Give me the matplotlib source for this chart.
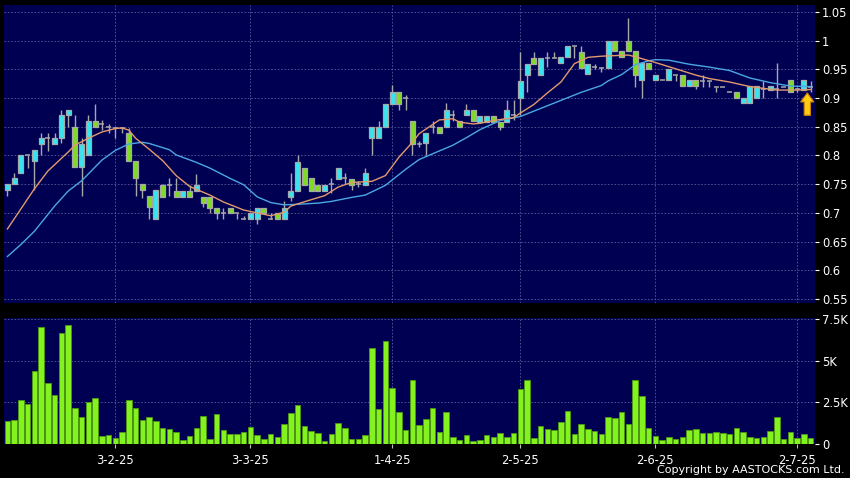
import numpy as np
import matplotlib
matplotlib.use("Agg")
import matplotlib.pyplot as plt

# ---------------- data ----------------
opens = [0.740, 0.750, 0.770, 0.800, 0.790, 0.820, 0.830, 0.820, 0.830, 0.870,
         0.850, 0.780, 0.800, 0.860, 0.855, 0.850, 0.848, 0.848, 0.840, 0.790,
         0.750, 0.729, 0.690, 0.749, 0.749, 0.739, 0.728, 0.739, 0.739, 0.728,
         0.728, 0.709, 0.700, 0.709, 0.700, 0.690, 0.690, 0.690, 0.709, 0.690,
         0.700, 0.690, 0.728, 0.739, 0.779, 0.760, 0.749, 0.739, 0.750, 0.759,
         0.760, 0.759, 0.750, 0.749, 0.830, 0.830, 0.849, 0.889, 0.911, 0.900,
         0.860, 0.820, 0.821, 0.850, 0.849, 0.849, 0.870, 0.860, 0.870, 0.880,
         0.859, 0.859, 0.869, 0.859, 0.859, 0.870, 0.900, 0.940, 0.970, 0.940,
         0.970, 0.970, 0.961, 0.971, 0.990, 0.980, 0.942, 0.955, 0.952, 0.953,
         1.000, 0.982, 1.000, 0.982, 0.931, 0.961, 0.931, 0.931, 0.931, 0.940,
         0.940, 0.921, 0.931, 0.930, 0.930, 0.920, 0.920, 0.910, 0.911, 0.892,
         0.892, 0.900, 0.915, 0.914, 0.915, 0.920, 0.931, 0.915, 0.914, 0.920]
closes = [0.750, 0.760, 0.800, 0.800, 0.810, 0.830, 0.830, 0.830, 0.870, 0.880,
          0.780, 0.820, 0.860, 0.850, 0.855, 0.850, 0.848, 0.848, 0.790, 0.760,
          0.740, 0.710, 0.740, 0.728, 0.749, 0.728, 0.739, 0.728, 0.749, 0.718,
          0.709, 0.699, 0.700, 0.699, 0.700, 0.690, 0.700, 0.709, 0.699, 0.690,
          0.690, 0.709, 0.739, 0.789, 0.749, 0.739, 0.739, 0.749, 0.750, 0.779,
          0.760, 0.749, 0.750, 0.769, 0.849, 0.849, 0.889, 0.911, 0.889, 0.900,
          0.820, 0.820, 0.840, 0.850, 0.840, 0.879, 0.870, 0.850, 0.880, 0.860,
          0.869, 0.869, 0.859, 0.849, 0.879, 0.870, 0.930, 0.959, 0.959, 0.970,
          0.970, 0.970, 0.971, 0.991, 0.990, 0.953, 0.960, 0.955, 0.952, 1.000,
          0.982, 0.971, 0.982, 0.941, 0.961, 0.951, 0.940, 0.931, 0.951, 0.940,
          0.921, 0.931, 0.921, 0.930, 0.930, 0.920, 0.920, 0.910, 0.901, 0.900,
          0.921, 0.921, 0.915, 0.921, 0.915, 0.920, 0.911, 0.915, 0.931, 0.920]
highs = [0.750, 0.769, 0.800, 0.800, 0.810, 0.839, 0.839, 0.840, 0.880, 0.880,
         0.870, 0.830, 0.870, 0.890, 0.862, 0.855, 0.850, 0.850, 0.848, 0.790,
         0.750, 0.729, 0.740, 0.750, 0.760, 0.760, 0.739, 0.749, 0.768, 0.728,
         0.728, 0.709, 0.709, 0.709, 0.700, 0.695, 0.700, 0.709, 0.709, 0.700,
         0.700, 0.720, 0.769, 0.800, 0.779, 0.760, 0.749, 0.749, 0.760, 0.779,
         0.770, 0.759, 0.755, 0.779, 0.849, 0.860, 0.889, 0.922, 0.911, 0.905,
         0.860, 0.825, 0.840, 0.860, 0.849, 0.891, 0.880, 0.860, 0.890, 0.880,
         0.869, 0.869, 0.869, 0.859, 0.897, 0.897, 0.980, 0.959, 0.980, 0.970,
         0.980, 0.980, 0.971, 0.991, 0.990, 0.990, 0.960, 0.960, 0.955, 1.000,
         1.000, 0.982, 1.040, 0.982, 0.961, 0.961, 0.940, 0.931, 0.951, 0.940,
         0.940, 0.931, 0.931, 0.940, 0.930, 0.920, 0.920, 0.910, 0.911, 0.900,
         0.921, 0.921, 0.930, 0.921, 0.961, 0.920, 0.931, 0.920, 0.931, 0.930]
lows = [0.730, 0.750, 0.770, 0.778, 0.740, 0.800, 0.808, 0.820, 0.822, 0.850,
        0.780, 0.730, 0.800, 0.850, 0.845, 0.840, 0.830, 0.840, 0.790, 0.729,
        0.726, 0.690, 0.690, 0.728, 0.730, 0.728, 0.728, 0.728, 0.739, 0.710,
        0.700, 0.690, 0.690, 0.699, 0.690, 0.690, 0.690, 0.680, 0.699, 0.690,
        0.690, 0.690, 0.720, 0.739, 0.749, 0.739, 0.739, 0.739, 0.735, 0.759,
        0.750, 0.740, 0.745, 0.749, 0.800, 0.830, 0.849, 0.889, 0.880, 0.880,
        0.800, 0.815, 0.800, 0.840, 0.840, 0.849, 0.860, 0.850, 0.870, 0.860,
        0.859, 0.859, 0.859, 0.845, 0.859, 0.862, 0.870, 0.911, 0.959, 0.940,
        0.955, 0.970, 0.961, 0.971, 0.970, 0.953, 0.942, 0.950, 0.945, 0.953,
        0.982, 0.971, 0.982, 0.920, 0.900, 0.951, 0.931, 0.931, 0.931, 0.930,
        0.921, 0.921, 0.915, 0.920, 0.920, 0.910, 0.920, 0.910, 0.901, 0.892,
        0.892, 0.900, 0.900, 0.914, 0.900, 0.920, 0.911, 0.910, 0.914, 0.910]
volumes_k = [1.35, 1.43, 2.64, 2.36, 4.38, 7.02, 3.67, 2.90, 6.67, 7.16,
             2.14, 1.59, 2.52, 2.72, 0.48, 0.54, 0.36, 0.67, 2.62, 2.12,
             1.41, 1.61, 1.35, 0.95, 0.87, 0.71, 0.24, 0.48, 0.91, 1.65,
             0.26, 1.81, 0.81, 0.58, 0.60, 0.69, 0.99, 0.50, 0.26, 0.60,
             0.42, 1.15, 1.85, 2.34, 1.05, 0.75, 0.63, 0.14, 0.60, 1.23,
             0.93, 0.26, 0.28, 0.50, 5.77, 2.10, 6.19, 3.35, 1.92, 0.81,
             3.81, 1.09, 1.51, 2.16, 0.71, 1.92, 0.40, 0.20, 0.50, 0.18,
             0.20, 0.54, 0.38, 0.63, 0.40, 0.63, 3.29, 3.83, 0.34, 1.05,
             0.87, 0.79, 1.29, 1.98, 0.56, 1.17, 0.89, 0.73, 0.60, 1.63,
             1.53, 1.90, 1.15, 3.83, 2.84, 0.93, 0.46, 0.20, 0.42, 0.28,
             0.38, 0.81, 0.87, 0.63, 0.63, 0.71, 0.63, 0.56, 0.95, 0.67,
             0.42, 0.34, 0.40, 0.73, 1.63, 0.26, 0.69, 0.34, 0.56, 0.34]

# moving averages (index, value)
ma_short_idx = [0, 4, 6, 9, 10, 12, 14, 16, 17, 18, 19, 21, 23, 25, 27, 30, 32, 35, 37, 39,
                41, 42, 45, 47, 49, 51, 54, 56, 58, 60, 61, 64, 66, 67, 69, 70, 72, 75, 76,
                78, 80, 82, 84, 86, 88, 92, 93, 96, 99, 102, 104, 107, 110, 114, 117, 119]
ma_short_val = [0.672, 0.742, 0.773, 0.806, 0.818, 0.830, 0.841, 0.847, 0.848, 0.844, 0.830,
                0.811, 0.791, 0.765, 0.746, 0.731, 0.719, 0.705, 0.700, 0.695, 0.701, 0.712,
                0.723, 0.730, 0.745, 0.753, 0.755, 0.765, 0.797, 0.823, 0.838, 0.862, 0.864,
                0.858, 0.855, 0.856, 0.861, 0.866, 0.874, 0.889, 0.909, 0.928, 0.960, 0.971,
                0.973, 0.975, 0.972, 0.962, 0.951, 0.940, 0.934, 0.928, 0.920, 0.914, 0.914,
                0.915]
ma_long_idx = [0, 2, 4, 7, 9, 11, 14, 16, 18, 20, 21, 24, 25, 28, 30, 33, 35, 37, 39, 41,
               43, 46, 48, 51, 53, 56, 59, 61, 63, 66, 68, 70, 73, 76, 79, 82, 85, 88, 89,
               91, 93, 95, 96, 98, 101, 104, 107, 110, 113, 116, 119]
ma_long_val = [0.624, 0.645, 0.668, 0.712, 0.738, 0.756, 0.792, 0.809, 0.820, 0.823, 0.821,
               0.810, 0.801, 0.788, 0.778, 0.760, 0.749, 0.728, 0.718, 0.714, 0.715, 0.717,
               0.720, 0.727, 0.731, 0.748, 0.776, 0.793, 0.803, 0.818, 0.831, 0.845, 0.861,
               0.868, 0.882, 0.896, 0.910, 0.922, 0.930, 0.941, 0.958, 0.965, 0.967, 0.966,
               0.959, 0.954, 0.948, 0.935, 0.927, 0.921, 0.920]

date_labels = ["3-2-25", "3-3-25", "1-4-25", "2-5-25", "2-6-25", "2-7-25"]
date_idx = [16, 36, 57, 76, 96, 117]
price_ticks = [0.55, 0.6, 0.65, 0.7, 0.75, 0.8, 0.85, 0.9, 0.95, 1.0, 1.05]
price_tick_labels = ["0.55", "0.6", "0.65", "0.7", "0.75", "0.8", "0.85", "0.9", "0.95", "1", "1.05"]
vol_ticks_k = [0, 2.5, 5, 7.5]
vol_tick_labels = ["0", "2.5K", "5K", "7.5K"]
arrow_idx = 118.5
arrow_from, arrow_to = 0.870, 0.909

# ---------------- style ----------------
NAVY = "#000052"
GRID = "#5a5a9a"
CYAN = "#33E6F2"
GREEN = "#7EDC22"
EDGE = "#A8A8A8"
VOLC = "#84F21E"
VOLE = "#4E9A12"

o = np.array(opens); c = np.array(closes); h = np.array(highs); l = np.array(lows)
x = np.arange(len(o))
v = np.array(volumes_k)

fig = plt.figure(figsize=(8.5, 4.78), dpi=100, facecolor="black")
W, H = 850.0, 478.0
ax = fig.add_axes([3.5 / W, 1 - 303 / H, (815 - 3.5) / W, (303 - 5) / H])
ax2 = fig.add_axes([3.5 / W, 1 - 444 / H, (815 - 3.5) / W, (444 - 318) / H])

for a in (ax, ax2):
    a.set_facecolor(NAVY)
    for s in a.spines.values():
        s.set_visible(False)
    a.set_xlim(-0.58, 119.64)
    a.yaxis.tick_right()
    a.tick_params(axis="y", colors="white", labelcolor="white", length=3, width=0.8,
                  pad=2, labelsize=8.3, direction="out")

# price panel
ax.set_ylim(0.543, 1.0622)
ax.set_yticks(price_ticks)
ax.set_yticklabels(price_tick_labels)
for p in price_ticks:
    ax.axhline(p, color=GRID, lw=0.6, ls=(0, (2, 2)), zorder=1)
for d in date_idx:
    ax.axvline(d, color=GRID, lw=0.6, ls=(0, (2, 2)), zorder=1)
ax.set_xticks([])

ax.vlines(x, l, h, color=EDGE, lw=1.0, zorder=2)
up = c > o
dn = c < o
dj = c == o
bw = 0.74
ax.bar(x[up], (c - o)[up], bottom=o[up], width=bw, color=CYAN, edgecolor=EDGE, lw=0.9, zorder=3)
ax.bar(x[dn], (o - c)[dn], bottom=c[dn], width=bw, color=GREEN, edgecolor=EDGE, lw=0.9, zorder=3)
ax.hlines(c[dj], x[dj] - bw / 2, x[dj] + bw / 2, color=EDGE, lw=1.1, zorder=3)

ax.plot(ma_long_idx, ma_long_val, color="#4AA8E4", lw=1.0, zorder=4)
ax.plot(ma_short_idx, ma_short_val, color="#E39A6B", lw=1.0, zorder=4)

ax.annotate("", xy=(arrow_idx, arrow_to), xytext=(arrow_idx, arrow_from),
            arrowprops=dict(arrowstyle="simple,head_width=0.95,head_length=0.65,tail_width=0.45",
                            fc="#FFCC10", ec="#C88000", lw=0.8, mutation_scale=10,
                            shrinkA=0, shrinkB=0), zorder=6)

# volume panel
ax2.set_ylim(-0.03, 7.58)
ax2.set_yticks(vol_ticks_k)
ax2.set_yticklabels(vol_tick_labels)
for t in vol_ticks_k[1:]:
    ax2.axhline(t, color=GRID, lw=0.6, ls=(0, (2, 2)), zorder=1)
for d in date_idx:
    ax2.axvline(d, color=GRID, lw=0.6, ls=(0, (2, 2)), zorder=1)
ax2.bar(x, v, width=0.8, color=VOLC, edgecolor=VOLE, lw=0.6, zorder=3)
ax2.set_xticks(date_idx)
ax2.set_xticklabels(date_labels)
ax2.tick_params(axis="x", colors="#BBBBBB", labelcolor="white", length=3, width=0.8,
                pad=4, labelsize=8.3, direction="out")

fig.text(845 / W, 1 - 470 / H, "Copyright by AASTOCKS.com Ltd.", color="white",
         fontsize=8, ha="right", va="center")

fig.savefig("out.png", dpi=100, facecolor="black")
